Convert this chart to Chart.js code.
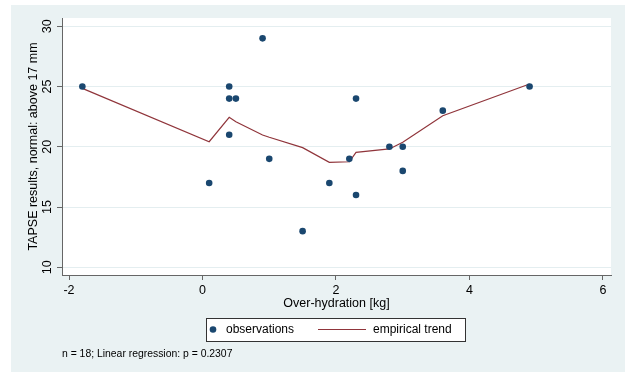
<!DOCTYPE html>
<html>
<head>
<meta charset="utf-8">
<script src="https://cdn.jsdelivr.net/npm/chart.js@4/dist/chart.umd.min.js"></script>
<style>
  html, body { margin: 0; padding: 0; background: #ffffff; }
  canvas { display: block; }
</style>
</head>
<body>
<canvas id="chart" width="625" height="372"></canvas>
<script>
// observations
let obsX = [-1.8, 0.1, 0.4, 0.4, 0.5, 0.4, 0.9, 1.0, 1.5, 1.9, 2.2, 2.3, 2.3, 2.8, 3.0, 3.0, 3.6, 4.9];
let obsY = [25, 17, 25, 24, 24, 21, 29, 19, 13, 17, 19, 24, 16, 20, 20, 18, 23, 25];
// empirical (lowess) trend
let trendX = [-1.8, 0.1, 0.4, 0.5, 0.9, 1.0, 1.5, 1.9, 2.2, 2.3, 2.8, 3.0, 3.6, 4.9];
let trendY = [24.85, 20.42, 22.45, 22.08, 20.98, 20.79, 19.93, 18.71, 18.76, 19.54, 19.82, 20.37, 22.58, 25.21];
// axis ticks
let xTicks = [-2, 0, 2, 4, 6];
let yTicks = [10, 15, 20, 25, 30];
let footnote = "n = 18; Linear regression: p = 0.2307";

const BG = "#eaf2f3";
const NAVY = "#1a476f";
const MAROON = "#90353b";
const AXIS = "#666666";
const FONT = "'Liberation Sans', Arial, sans-serif";

let toPts = (xs, ys) => xs.map((x, i) => ({ x: x, y: ys[i] }));

let stataFrame = {
    id: "stataFrame",
    beforeDraw(chart) {
        let ctx = chart.ctx;
        let a = chart.chartArea;
        ctx.save();
        ctx.fillStyle = "#ffffff";
        ctx.fillRect(0, 0, chart.width, chart.height);
        ctx.fillStyle = BG;
        ctx.fillRect(11, 5, chart.width - 11, chart.height - 5);
        ctx.fillStyle = "#ffffff";
        ctx.fillRect(a.left, a.top, a.right - a.left, a.bottom - a.top);
        ctx.restore();
    },
    afterDraw(chart) {
        let ctx = chart.ctx;
        let ds = chart.data.datasets;
        ctx.save();
        // legend box
        let bx = 206, by = 318, bw = 259, bh = 23, cy = by + bh / 2;
        ctx.fillStyle = "#ffffff";
        ctx.fillRect(bx, by, bw, bh);
        ctx.strokeStyle = "#333333";
        ctx.lineWidth = 1;
        ctx.strokeRect(bx + 0.5, by + 0.5, bw, bh);
        ctx.fillStyle = ds[0].backgroundColor;
        ctx.beginPath();
        ctx.arc(213, cy, 3.3, 0, Math.PI * 2);
        ctx.fill();
        ctx.font = "12px " + FONT;
        ctx.textBaseline = "middle";
        ctx.fillStyle = "#000000";
        ctx.fillText(ds[0].label, 226, cy + 0.5);
        ctx.strokeStyle = ds[1].borderColor;
        ctx.lineWidth = 1.2;
        ctx.beginPath();
        ctx.moveTo(318, cy);
        ctx.lineTo(366, cy);
        ctx.stroke();
        ctx.fillText(ds[1].label, 373, cy + 0.5);
        // note
        ctx.font = "10.4px " + FONT;
        ctx.fillText(footnote, 62, 354);
        ctx.restore();
    }
};

new Chart(document.getElementById("chart"), {
    type: "scatter",
    data: {
        datasets: [
            {
                label: "observations",
                data: toPts(obsX, obsY),
                backgroundColor: NAVY,
                borderColor: NAVY,
                pointRadius: 3.3,
                borderWidth: 0,
                order: 1
            },
            {
                label: "empirical trend",
                data: toPts(trendX, trendY),
                showLine: true,
                borderColor: MAROON,
                backgroundColor: MAROON,
                borderWidth: 1.2,
                pointRadius: 0,
                tension: 0,
                order: 2
            }
        ]
    },
    options: {
        responsive: false,
        animation: false,
        devicePixelRatio: 1,
        layout: { padding: { left: 0, top: 18, right: 14, bottom: 61 } },
        plugins: {
            legend: { display: false },
            tooltip: { enabled: false }
        },
        scales: {
            x: {
                type: "linear",
                min: -2.105,
                max: 6.12,
                afterBuildTicks: (s) => { s.ticks = xTicks.map(v => ({ value: v })); },
                afterFit: (s) => { s.height = 36; },
                border: { display: true, color: AXIS, width: 1 },
                grid: { drawOnChartArea: false, tickLength: 5, tickColor: AXIS },
                ticks: { color: "#000", padding: 3, maxRotation: 0, font: { family: FONT, size: 12.5 } },
                title: {
                    display: true,
                    text: "Over-hydration [kg]",
                    color: "#000",
                    padding: { top: 0, bottom: 0 },
                    font: { family: FONT, size: 12.5 }
                }
            },
            y: {
                type: "linear",
                min: 9.36,
                max: 30.69,
                afterBuildTicks: (s) => { s.ticks = yTicks.map(v => ({ value: v })); },
                afterFit: (s) => { s.width = 62; },
                border: { display: true, color: AXIS, width: 1 },
                grid: { color: "#e4eef0", lineWidth: 1, tickLength: 5, tickColor: AXIS },
                ticks: {
                    color: "#000",
                    padding: 3,
                    minRotation: 90,
                    maxRotation: 90,
                    crossAlign: "center",
                    font: { family: FONT, size: 12.5 }
                },
                title: {
                    display: true,
                    text: "TAPSE results, normal: above 17 mm",
                    color: "#000",
                    padding: { top: 26, bottom: 0 },
                    font: { family: FONT, size: 12.5 }
                }
            }
        }
    },
    plugins: [stataFrame]
});
</script>
</body>
</html>
